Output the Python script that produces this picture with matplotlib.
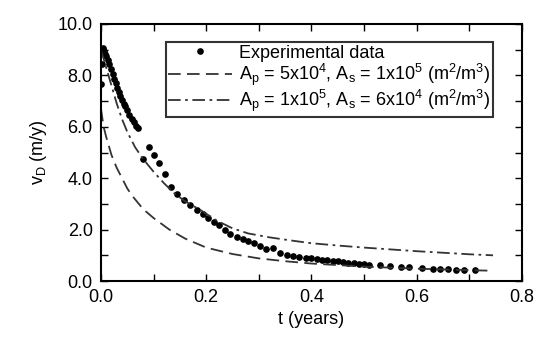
import numpy as np
import matplotlib.pyplot as plt
from matplotlib.legend_handler import HandlerLine2D
from matplotlib.ticker import MultipleLocator, FormatStrFormatter

plt.rcParams['font.family'] = ['Liberation Sans', 'DejaVu Sans']
plt.rcParams['mathtext.fontset'] = 'custom'
plt.rcParams['mathtext.rm'] = 'Liberation Sans'
plt.rcParams['mathtext.it'] = 'Liberation Sans:italic'

# экспериментальные точки
t_exp = [0.0, 0.001, 0.002, 0.004, 0.006, 0.008, 0.010, 0.013, 0.016, 0.019,
         0.022, 0.025, 0.028, 0.031, 0.034, 0.037, 0.040, 0.043, 0.046, 0.050,
         0.054, 0.058, 0.062, 0.066, 0.070,
         0.080, 0.091, 0.101, 0.111, 0.122, 0.134, 0.145, 0.157, 0.170, 0.182,
         0.193, 0.204, 0.215, 0.225, 0.236, 0.246, 0.258, 0.269, 0.280, 0.291,
         0.302, 0.314, 0.326, 0.340, 0.353, 0.365, 0.377, 0.390,
         0.400, 0.410, 0.420, 0.430, 0.440, 0.450, 0.460, 0.470, 0.480, 0.490,
         0.500, 0.510, 0.530, 0.550, 0.570, 0.585, 0.610, 0.630, 0.645, 0.660,
         0.675, 0.690, 0.710]
v_exp = [7.65, 8.45, 8.9, 9.05, 8.95, 8.85, 8.75, 8.6, 8.45, 8.25,
         8.05, 7.85, 7.7, 7.5, 7.35, 7.2, 7.05, 6.9, 6.8, 6.65,
         6.45, 6.3, 6.2, 6.05, 5.95,
         4.75, 5.2, 4.9, 4.6, 4.15, 3.65, 3.4, 3.15, 2.95, 2.76,
         2.59, 2.44, 2.3, 2.18, 2.0, 1.82, 1.72, 1.62, 1.54, 1.47,
         1.36, 1.24, 1.27, 1.08, 1.0, 0.96, 0.93, 0.9,
         0.88, 0.85, 0.83, 0.8, 0.78, 0.76, 0.73, 0.71, 0.69, 0.67,
         0.65, 0.63, 0.61, 0.58, 0.55, 0.53, 0.5, 0.48, 0.47, 0.45,
         0.44, 0.43, 0.42]

# модель 1: Ap = 5e4, As = 1e5
t_m1 = [0.0, 0.005, 0.01, 0.02, 0.03, 0.04, 0.05, 0.06, 0.08, 0.10, 0.13,
        0.16, 0.20, 0.25, 0.30, 0.35, 0.40, 0.50, 0.60, 0.70, 0.745]
v_m1 = [6.7, 6.0, 5.6, 4.9, 4.4, 4.0, 3.6, 3.3, 2.8, 2.45, 2.0,
        1.65, 1.3, 1.05, 0.88, 0.77, 0.68, 0.56, 0.48, 0.42, 0.40]

# модель 2: Ap = 1e5, As = 6e4
t_m2 = [0.0, 0.01, 0.02, 0.03, 0.04, 0.05, 0.065, 0.08, 0.10, 0.12, 0.14,
        0.16, 0.19, 0.22, 0.25, 0.28, 0.32, 0.36, 0.40, 0.45, 0.50, 0.55,
        0.60, 0.65, 0.70, 0.745]
v_m2 = [9.0, 8.3, 7.6, 6.9, 6.3, 5.8, 5.2, 4.75, 4.25, 3.8, 3.4,
        3.1, 2.75, 2.35, 2.05, 1.85, 1.7, 1.58, 1.47, 1.38, 1.3, 1.23,
        1.16, 1.1, 1.04, 1.0]

labels = ['Experimental data',
          r'A$_\mathrm{p}$ = 5x10$^4$, A$_\mathrm{s}$ = 1x10$^5$ (m$^2$/m$^3$)',
          r'A$_\mathrm{p}$ = 1x10$^5$, A$_\mathrm{s}$ = 6x10$^4$ (m$^2$/m$^3$)']


class DotRight(HandlerLine2D):
    # точка в легенде прижата к тексту
    def get_xdata(self, legend, xdescent, ydescent, width, height, fontsize):
        xd = np.array([-xdescent, -xdescent + width])
        xm = np.array([-xdescent + width * 0.88])
        return xd, xm


fig = plt.figure(figsize=(5.38, 3.38), dpi=100)
ax = fig.add_axes([0.1877, 0.1686, 0.7825, 0.7604])

pts, = ax.plot(t_exp, v_exp, 'o', color='black', markersize=3.8, label=labels[0])
ax.plot(t_m1, v_m1, color='#333333', lw=1.3, dashes=(7, 3.5), label=labels[1])
ax.plot(t_m2, v_m2, color='#333333', lw=1.3, dashes=(7, 2.5, 1.5, 2.5), label=labels[2])

ax.set_xlim(0, 0.8)
ax.set_ylim(0, 10)
ax.xaxis.set_major_locator(MultipleLocator(0.2))
ax.xaxis.set_minor_locator(MultipleLocator(0.1))
ax.yaxis.set_major_locator(MultipleLocator(2))
ax.yaxis.set_minor_locator(MultipleLocator(1))
ax.xaxis.set_major_formatter(FormatStrFormatter('%.1f'))
ax.yaxis.set_major_formatter(FormatStrFormatter('%.1f'))
ax.tick_params(which='both', direction='in', top=True, right=True, width=1.0,
               labelsize=13, pad=6)
ax.tick_params(which='major', length=5)
ax.tick_params(which='minor', length=5)
for s in ax.spines.values():
    s.set_linewidth(1.5)

ax.set_xlabel('t (years)', fontsize=13, labelpad=3)
ax.set_ylabel(r'v$_\mathrm{D}$ (m/y)', fontsize=13, labelpad=6)

leg = ax.legend(loc='upper right', bbox_to_anchor=(0.931, 0.93), borderaxespad=0,
                fontsize=13, frameon=True, fancybox=False, handlelength=3.5,
                handletextpad=0.4, labelspacing=0.0, borderpad=0.15,
                handler_map={pts: DotRight()})
leg.get_frame().set_edgecolor('black')
leg.get_frame().set_linewidth(1.5)

fig.savefig('out.png', dpi=100)
